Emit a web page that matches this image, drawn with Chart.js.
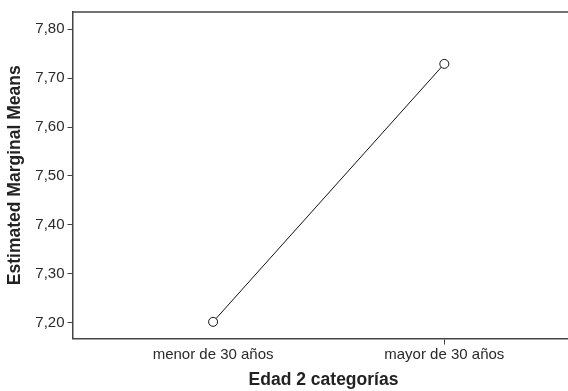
<!DOCTYPE html>
<html>
<head>
<meta charset="utf-8">
<script src="https://cdn.jsdelivr.net/npm/chart.js@4.4.0/dist/chart.umd.min.js"></script>
<style>
  html, body { margin: 0; padding: 0; background: #fff; overflow: hidden; }
  #wrap { width: 580px; height: 391px; position: relative; }
</style>
</head>
<body>
<div id="wrap"><canvas id="chart"></canvas></div>
<script>
// datos
const categories = ['menor de 30 años', 'mayor de 30 años'];
const means = [7.202, 7.729];
const yTicks = [7.20, 7.30, 7.40, 7.50, 7.60, 7.70, 7.80];

const axisColor = '#444';
const font = "'Liberation Sans', Arial, sans-serif";

// linea superior del marco
const topBorder = {
    id: 'topBorder',
    afterDraw(chart) {
        const a = chart.chartArea;
        const ctx = chart.ctx;
        ctx.save();
        ctx.strokeStyle = axisColor;
        ctx.lineWidth = 1.5;
        ctx.beginPath();
        ctx.moveTo(a.left, a.top);
        ctx.lineTo(a.right + 2, a.top);
        ctx.stroke();
        ctx.restore();
    }
};

new Chart(document.getElementById('chart'), {
    type: 'line',
    data: {
        datasets: [{
            data: means.map((v, i) => ({ x: i + 1, y: v })),
            borderColor: '#111',
            borderWidth: 1,
            pointRadius: 4.5,
            pointBackgroundColor: '#fff',
            pointBorderColor: '#111',
            pointBorderWidth: 1,
            tension: 0
        }]
    },
    options: {
        responsive: true,
        maintainAspectRatio: false,
        animation: false,
        layout: { padding: { top: 12, left: 0, right: 0, bottom: 0 } },
        plugins: { legend: { display: false }, tooltip: { enabled: false } },
        scales: {
            x: {
                type: 'linear',
                min: 0.392,
                max: 2.563,
                afterBuildTicks: s => { s.ticks = categories.map((c, i) => ({ value: i + 1 })); },
                afterFit: s => { s.height = 52.5; },
                ticks: {
                    callback: v => categories[v - 1] || '',
                    color: '#2a2a2a',
                    font: { family: font, size: 15 },
                    padding: 1,
                    maxRotation: 0
                },
                grid: {
                    drawOnChartArea: false,
                    drawTicks: true,
                    tickLength: 6,
                    color: ctx => (ctx.tick && ctx.tick.value === 1) ? 'rgba(0,0,0,0)' : axisColor,
                    lineWidth: 1
                },
                border: { display: true, color: axisColor, width: 1.5 },
                title: {
                    display: true,
                    text: 'Edad 2 categorías',
                    color: '#222',
                    font: { family: font, size: 17.5, weight: 'bold' },
                    padding: { top: 4, bottom: 0 }
                }
            },
            y: {
                min: 7.168,
                max: 7.835,
                afterBuildTicks: s => { s.ticks = yTicks.map(v => ({ value: v })); },
                afterFit: s => { s.width = 72.5; },
                ticks: {
                    callback: v => v.toFixed(2).replace('.', ','),
                    color: '#2a2a2a',
                    font: { family: font, size: 15 },
                    padding: 3
                },
                grid: {
                    drawOnChartArea: false,
                    drawTicks: true,
                    tickLength: 5,
                    color: axisColor,
                    lineWidth: 1
                },
                border: { display: true, color: axisColor, width: 1.5 },
                title: {
                    display: true,
                    text: 'Estimated Marginal Means',
                    color: '#222',
                    font: { family: font, size: 17.5, weight: 'bold' },
                    padding: { top: 5, bottom: 0 }
                }
            }
        }
    },
    plugins: [topBorder]
});
</script>
</body>
</html>
